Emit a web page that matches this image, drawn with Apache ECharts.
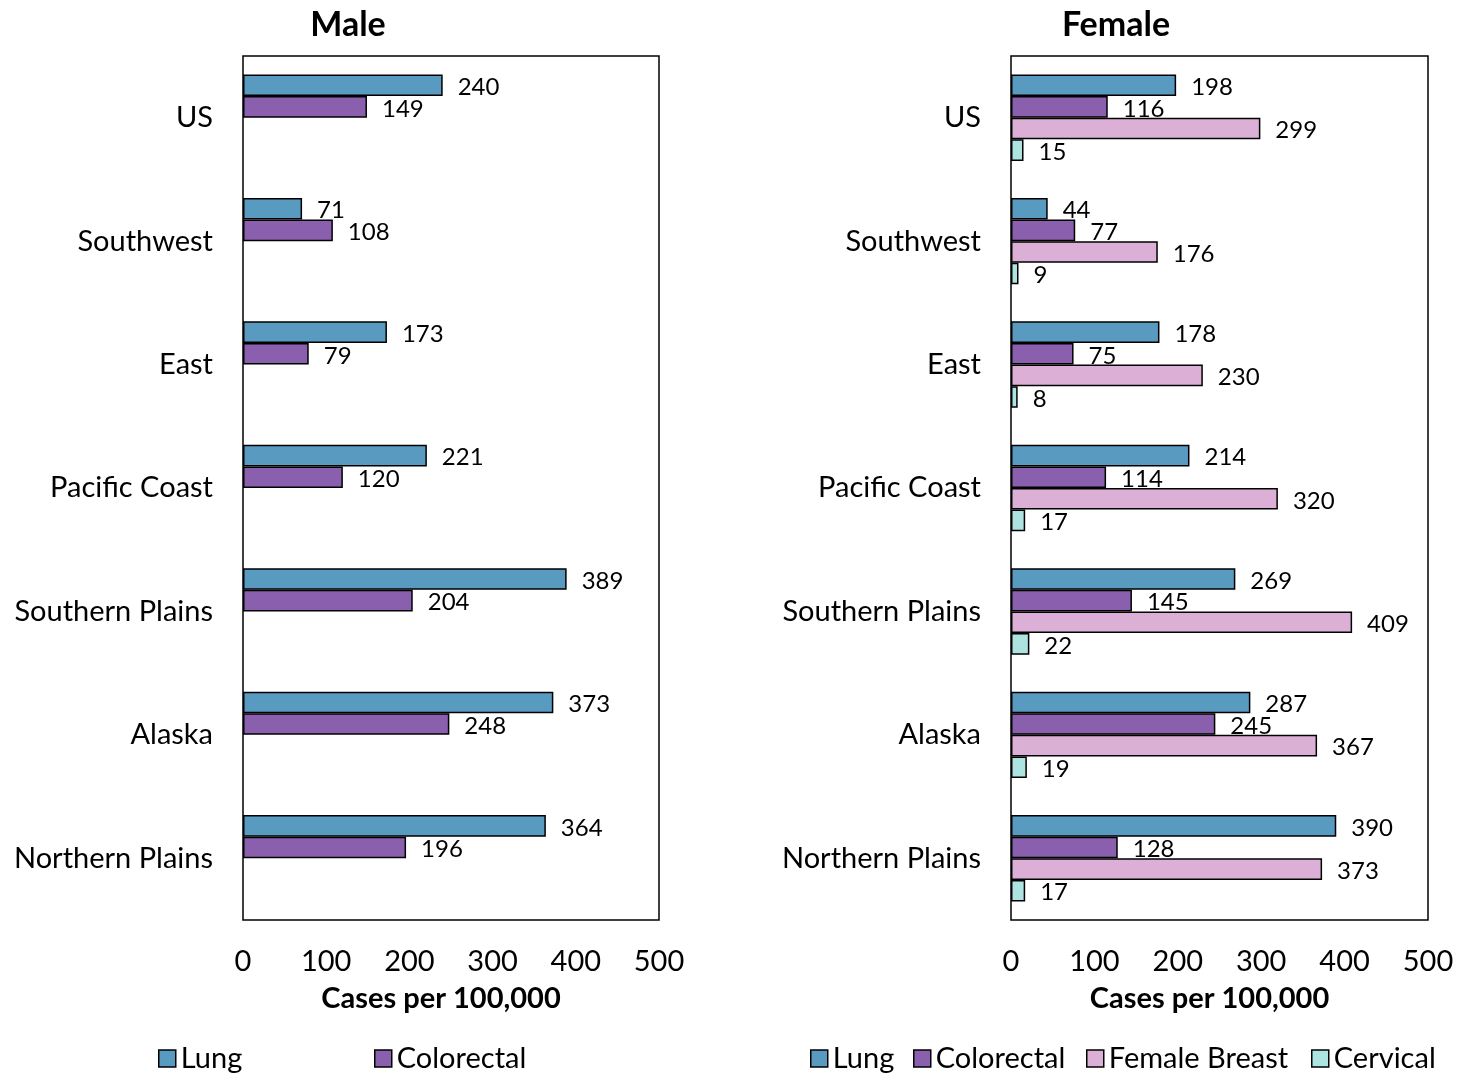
<!DOCTYPE html>
<html>
<head>
<meta charset="utf-8">
<script src="https://cdn.jsdelivr.net/npm/echarts@6/dist/echarts.min.js"></script>
<style>
  html, body { margin: 0; padding: 0; background: #fff; }
  #chart { width: 1470px; height: 1074px; }
</style>
</head>
<body>
<div id="chart"></div>
<script>
// Regions, top to bottom
const regions = ['US', 'Southwest', 'East', 'Pacific Coast', 'Southern Plains', 'Alaska', 'Northern Plains'];

// Male incidence, cases per 100,000
const maleLung = [240, 71, 173, 221, 389, 373, 364];
const maleColorectal = [149, 108, 79, 120, 204, 248, 196];

// Female incidence, cases per 100,000
const femaleLung = [198, 44, 178, 214, 269, 287, 390];
const femaleColorectal = [116, 77, 75, 114, 145, 245, 128];
const femaleBreast = [299, 176, 230, 320, 409, 367, 373];
const femaleCervical = [15, 9, 8, 17, 22, 19, 17];

const xTicks = { min: 0, max: 500, interval: 100 };

const FONT = 'Lato, "Open Sans", sans-serif';
const COLORS = {
  'Lung': '#589ac0',
  'Colorectal': '#8a5fae',
  'Female Breast': '#dcb0d6',
  'Cervical': '#ade3e0'
};

function barSeries(name, data, idx) {
  return {
    type: 'bar',
    name: name,
    xAxisIndex: idx,
    yAxisIndex: idx,
    data: data,
    barGap: '0%',
    barCategoryGap: '30%',
    itemStyle: { color: COLORS[name], borderColor: '#000', borderWidth: 1.5 },
    label: {
      show: data.length > 0,
      position: 'right',
      distance: 15,
      offset: [0, 2],
      fontFamily: FONT,
      fontSize: 24,
      color: '#000'
    }
  };
}

function legendItem(name, left) {
  return {
    data: [name],
    left: left,
    top: 1039,
    icon: 'rect',
    itemWidth: 17,
    itemHeight: 17,
    itemGap: 6,
    textStyle: { fontFamily: FONT, fontSize: 29, color: '#000' },
    itemStyle: { borderColor: '#000', borderWidth: 1.5 }
  };
}

const grids = [
  { left: 243, width: 416, top: 56, height: 864 },
  { left: 1011, width: 417, top: 56, height: 864 }
];

const option = {
  animation: false,
  backgroundColor: '#fff',
  title: [
    { text: 'Male', left: 343, top: 3, textAlign: 'center',
      textStyle: { fontFamily: FONT, fontSize: 34, fontWeight: 'bold', color: '#000' } },
    { text: 'Female', left: 1111, top: 3, textAlign: 'center',
      textStyle: { fontFamily: FONT, fontSize: 34, fontWeight: 'bold', color: '#000' } }
  ],
  grid: grids.map(g => Object.assign({ show: true, borderColor: '#000', borderWidth: 1.5, backgroundColor: '#fff' }, g)),
  xAxis: grids.map((g, i) => ({
    type: 'value',
    gridIndex: i,
    min: xTicks.min,
    max: xTicks.max,
    interval: xTicks.interval,
    splitLine: { show: false },
    axisLine: { show: false },
    axisTick: { show: false },
    axisLabel: { margin: 27, fontFamily: FONT, fontSize: 29, color: '#000' },
    name: 'Cases per 100,000',
    nameLocation: 'middle',
    nameGap: 64,
    nameTextStyle: { fontFamily: FONT, fontSize: 29, fontWeight: 'bold', color: '#000', padding: [0, 20, 0, 0] }
  })),
  yAxis: grids.map((g, i) => ({
    type: 'category',
    gridIndex: i,
    data: regions,
    inverse: true,
    axisLine: { show: false },
    axisTick: { show: false },
    axisLabel: { margin: 30, fontFamily: FONT, fontSize: 29, color: '#000' }
  })),
  legend: [
    legendItem('Lung', 153),
    legendItem('Colorectal', 369),
    legendItem('Lung', 805),
    legendItem('Colorectal', 908),
    legendItem('Female Breast', 1081),
    legendItem('Cervical', 1306)
  ],
  series: [
    barSeries('Lung', maleLung, 0),
    barSeries('Colorectal', maleColorectal, 0),
    barSeries('Female Breast', [], 0),
    barSeries('Cervical', [], 0),
    barSeries('Lung', femaleLung, 1),
    barSeries('Colorectal', femaleColorectal, 1),
    barSeries('Female Breast', femaleBreast, 1),
    barSeries('Cervical', femaleCervical, 1)
  ]
};

const chart = echarts.init(document.getElementById('chart'), null, { renderer: 'canvas' });
chart.setOption(option);
</script>
</body>
</html>
